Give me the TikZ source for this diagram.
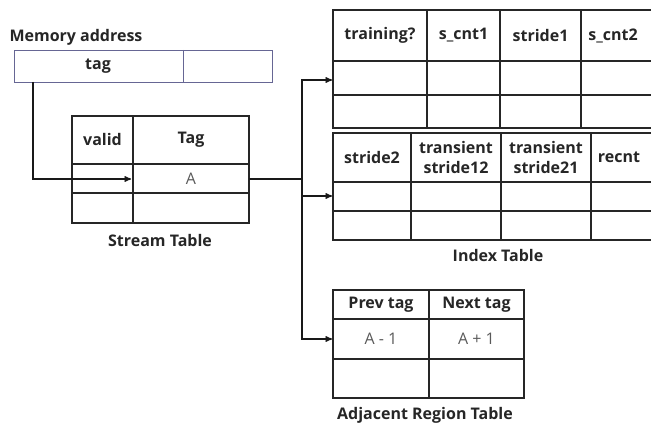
\documentclass[tikz,border=0pt]{standalone}
\usepackage{fontspec}
\setmainfont{Open Sans}
\usetikzlibrary{arrows}

\tikzset{
  tbl/.style={draw=black!85, line width=1.2pt},
  membox/.style={draw=blue!30!black!60, line width=0.9pt},
  head/.style={font=\bfseries\fontsize{16}{20}\selectfont, text=black!85, align=center},
  val/.style={font=\fontsize{16}{20}\selectfont, text=black!65},
  link/.style={draw=black!90, line width=1.3pt},
}

\begin{document}
\begin{tikzpicture}[x=1pt, y=-1pt, >=stealth']
    \useasboundingbox (0,0) rectangle (651,425);
    \clip (0,0) rectangle (651,425);

    % Memory address
    \node[head, anchor=west] (memlabel) at (6,37) {Memory address};
    \draw[membox] (14,50) rectangle (272,82);
    \draw[membox] (183,50) -- (183,82);
    \node[head] (tag) at (98,66) {tag};

    % Stream table
    \draw[tbl] (72,116) rectangle (249,223);
    \draw[tbl] (72,164) -- (249,164) (72,193) -- (249,193) (133,116) -- (133,223);
    \node[head] (valid) at (102.5,140) {valid};
    \node[head] (tagcol) at (191,140) {Tag};
    \node[val] (a) at (191,179) {A};
    \node[head] (stream) at (160,241) {Stream Table};

    % Index table, first half
    \draw[tbl] (333,10) rectangle (680,128);
    \draw[tbl] (333,61) -- (680,61) (333,95) -- (680,95);
    \draw[tbl] (427,10) -- (427,128) (500,10) -- (500,128) (581,10) -- (581,128);
    \node[head] (training) at (380,35.5) {training?};
    \node[head] (scnt1) at (463.5,35.5) {s\_cnt1};
    \node[head] (stride1) at (540.5,35.5) {stride1};
    \node[head] (scnt2) at (613,35.5) {s\_cnt2};

    % Index table, second half
    \draw[tbl] (333,133) rectangle (680,240);
    \draw[tbl] (333,182) -- (680,182) (333,211) -- (680,211);
    \draw[tbl] (411,133) -- (411,240) (501,133) -- (501,240) (591,133) -- (591,240);
    \node[head] (stride2) at (372,157.5) {stride2};
    \node[head] (tstride12) at (456,157.5) {transient\\stride12};
    \node[head] (tstride21) at (546,157.5) {transient\\stride21};
    \node[head] (recnt) at (619,157.5) {recnt};
    \node[head] (index) at (498,255) {Index Table};

    % Adjacent region table
    \draw[tbl] (333,290) rectangle (524,398);
    \draw[tbl] (333,319) -- (524,319) (333,359) -- (524,359) (429,290) -- (429,398);
    \node[head] (prev) at (381,304.5) {Prev tag};
    \node[head] (next) at (476.5,304.5) {Next tag};
    \node[val] (aminus) at (381,339) {A - 1};
    \node[val] (aplus) at (476.5,339) {A + 1};
    \node[head] (adjacent) at (425,415) {Adjacent Region Table};

    % connector end points
    \coordinate (tap) at (33,82);
    \coordinate (st-in) at (131,179);
    \coordinate (st-out) at (249,179);
    \coordinate (bus) at (302,179);
    \coordinate (it-in1) at (332,80);
    \coordinate (it-in2) at (332,196);
    \coordinate (ar-in) at (332,339);

    % tag lookup
    \draw[link, ->] (tap) |- (st-in);

    % hit goes to both tables
    \draw[link] (st-out) -- (bus);
    \draw[link, ->] (bus) |- (it-in1);
    \draw[link, ->] (bus) |- (it-in2);
    \draw[link, ->] (bus) |- (ar-in);
\end{tikzpicture}
\end{document}
